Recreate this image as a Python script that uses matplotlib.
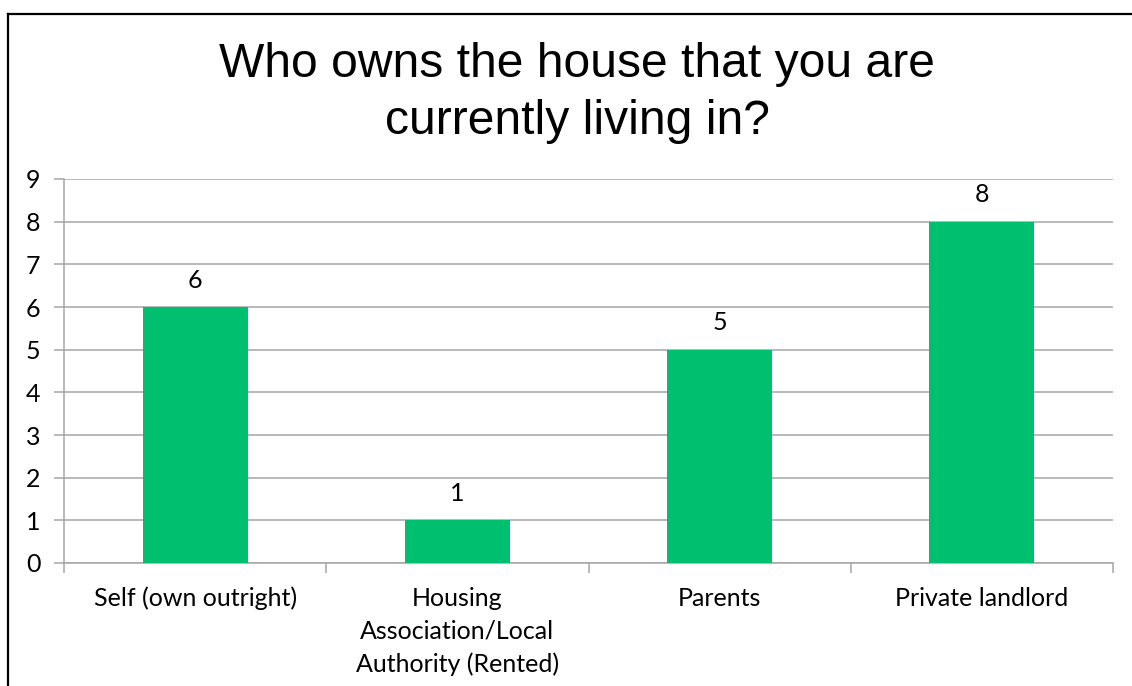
import matplotlib
matplotlib.use("Agg")
import matplotlib.pyplot as plt
from matplotlib.lines import Line2D
from matplotlib.ticker import FixedLocator

categories = ["Self (own outright)", "Housing\nAssociation/Local\nAuthority (Rented)",
              "Parents", "Private landlord"]
counts = [6, 1, 5, 8]
y_ticks = list(range(0, 10))
title = "Who owns the house that you are\ncurrently living in?"

W, H = 1132, 686
fig = plt.figure(figsize=(W / 100, H / 100), dpi=100)
fig.patch.set_facecolor("white")

label_font = "Lato"
label_size = 18
grid_col = "#A6A6A6"
bar_col = "#00BF6F"

# plot area in pixel coordinates
x0, x1, y_top, y_bot = 64, 1113, 179, 563
ax = fig.add_axes([x0 / W, 1 - y_bot / H, (x1 - x0) / W, (y_bot - y_top) / H])

x = list(range(len(categories)))
ax.bar(x, counts, width=0.4, color=bar_col, zorder=3)
for xi, v in zip(x, counts):
    ax.annotate(str(v), (xi, v), xytext=(0, 11), textcoords="offset points",
                ha="center", va="bottom", fontsize=label_size, family=label_font,
                color="#000000")

ax.set_xlim(-0.5, len(categories) - 0.5)
ax.set_ylim(0, 9)
ax.set_yticks(y_ticks)
ax.yaxis.grid(True, color=grid_col, linewidth=1.1, zorder=0)
ax.set_axisbelow(True)

ax.set_xticks(x)
ax.set_xticklabels(categories, fontsize=label_size, family=label_font, linespacing=1.5)
ax.xaxis.set_minor_locator(FixedLocator([i - 0.5 for i in range(len(categories) + 1)]))
ax.tick_params(axis="x", which="major", length=0, pad=17)
ax.tick_params(axis="x", which="minor", length=7, width=1.1, color=grid_col)
ax.tick_params(axis="y", length=7, width=1.1, color=grid_col, pad=10,
               labelsize=label_size)
for lbl in ax.get_yticklabels():
    lbl.set_family(label_font)

for side in ("top", "right"):
    ax.spines[side].set_visible(False)
for side in ("left", "bottom"):
    ax.spines[side].set_color(grid_col)
    ax.spines[side].set_linewidth(1.1)

fig.text(577 / W, 1 - 93 / H, title, ha="center", va="center", fontsize=34.6,
         family="Liberation Sans", linespacing=1.33)

# frame lines along the top and left edges
fig.add_artist(Line2D([8 / W, 1.0], [1 - 14 / H, 1 - 14 / H], color="black", lw=1.6,
                      transform=fig.transFigure))
fig.add_artist(Line2D([8 / W, 8 / W], [1 - 14 / H, 0], color="black", lw=1.6,
                      transform=fig.transFigure))

fig.savefig("out.png", dpi=100)
